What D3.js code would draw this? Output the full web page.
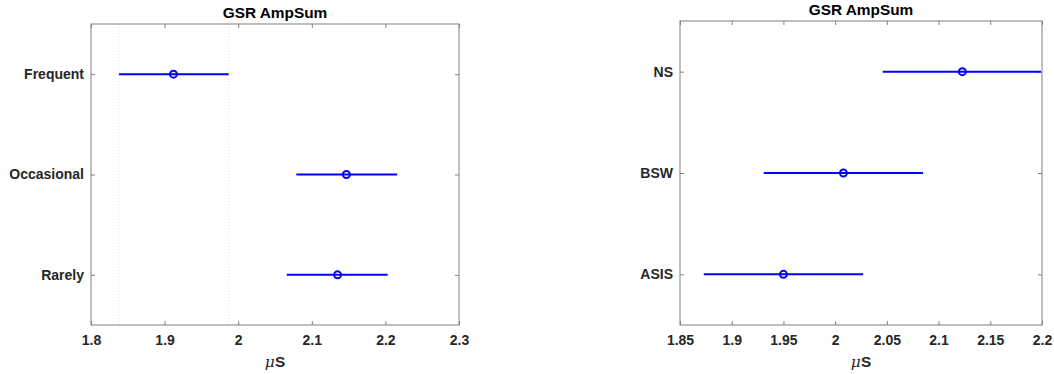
<!DOCTYPE html>
<meta charset="utf-8">
<style>
  body { margin: 0; background: #fff; }
  svg { font-family: "Liberation Sans", Arial, sans-serif; font-weight: bold; }
  .axis text { fill: #262626; font-size: 14px; }
  .axis .tick line { stroke: #808080; }
  .frame { fill: none; stroke: #808080; stroke-width: 1; }
  .ci { stroke: #0000ff; stroke-width: 2; }
  .mean { fill: none; stroke: #0000ff; stroke-width: 2; }
  .ref { stroke: #d9d9d9; stroke-width: 0.8; stroke-dasharray: 1,2; }
  .title { fill: #000; font-size: 15.4px; }
  .xlabel { fill: #262626; font-size: 15.4px; }
</style>
<svg width="1054" height="374"></svg>
<script src="https://cdn.jsdelivr.net/npm/d3@7"></script>
<script>
  // left panel: frequency groups
  var leftGroups = ["Frequent", "Occasional", "Rarely"];
  var leftMean = [1.912, 2.147, 2.135];
  var leftLow = [1.838, 2.079, 2.066];
  var leftHigh = [1.987, 2.216, 2.203];
  var leftTicks = [1.8, 1.9, 2, 2.1, 2.2, 2.3];

  // right panel: conditions
  var rightGroups = ["NS", "BSW", "ASIS"];
  var rightMean = [2.123, 2.008, 1.950];
  var rightLow = [2.046, 1.931, 1.873];
  var rightHigh = [2.199, 2.085, 2.027];
  var rightTicks = [1.85, 1.9, 1.95, 2, 2.05, 2.1, 2.15, 2.2];

  var svg = d3.select("svg");

  function panel(opt) {
    var g = svg.append("g");
    var n = opt.groups.length;
    var x = d3.scaleLinear().domain(d3.extent(opt.ticks)).range([opt.left, opt.right]);
    var y = d3.scaleLinear().domain([0.5, n + 0.5]).range([opt.bottom, opt.top]);
    var w = opt.right - opt.left, h = opt.bottom - opt.top;
    var fmt = function(d) { return d3.format("")(+d.toFixed(2)); };

    var clipId = "clip" + opt.id;
    svg.append("clipPath").attr("id", clipId)
      .append("rect").attr("x", opt.left).attr("y", opt.top).attr("width", w).attr("height", h);

    // reference lines at the interval of the highlighted group
    if (opt.refIndex != null) {
      g.selectAll(".ref").data([opt.low[opt.refIndex], opt.high[opt.refIndex]]).enter()
        .append("line").attr("class", "ref")
        .attr("x1", function(d) { return x(d); }).attr("x2", function(d) { return x(d); })
        .attr("y1", opt.top).attr("y2", opt.bottom);
    }

    // axes (ticks inward, MATLAB style)
    var ypos = opt.groups.map(function(d, i) { return n - i; });
    g.append("g").attr("class", "axis")
      .attr("transform", "translate(0," + opt.bottom + ")")
      .call(d3.axisBottom(x).tickValues(opt.ticks).tickFormat(fmt).tickSizeInner(-4).tickSizeOuter(0).tickPadding(10))
      .call(function(s) { s.select(".domain").remove(); });
    g.append("g").attr("class", "axis")
      .attr("transform", "translate(0," + opt.top + ")")
      .call(d3.axisTop(x).tickValues(opt.ticks).tickFormat("").tickSizeInner(-4).tickSizeOuter(0))
      .call(function(s) { s.select(".domain").remove(); });
    g.append("g").attr("class", "axis")
      .attr("transform", "translate(" + opt.left + ",0)")
      .call(d3.axisLeft(y).tickValues(ypos).tickFormat(function(d) { return opt.groups[n - d]; })
        .tickSizeInner(-4).tickSizeOuter(0).tickPadding(7))
      .call(function(s) { s.select(".domain").remove(); });
    g.append("g").attr("class", "axis")
      .attr("transform", "translate(" + opt.right + ",0)")
      .call(d3.axisRight(y).tickValues(ypos).tickFormat("").tickSizeInner(-4).tickSizeOuter(0))
      .call(function(s) { s.select(".domain").remove(); });

    g.append("rect").attr("class", "frame")
      .attr("x", opt.left).attr("y", opt.top).attr("width", w).attr("height", h);

    // intervals and means
    var marks = g.append("g").attr("clip-path", "url(#" + clipId + ")");
    marks.selectAll(".ci").data(opt.groups).enter().append("line").attr("class", "ci")
      .attr("x1", function(d, i) { return x(opt.low[i]); })
      .attr("x2", function(d, i) { return x(opt.high[i]); })
      .attr("y1", function(d, i) { return y(ypos[i]); })
      .attr("y2", function(d, i) { return y(ypos[i]); });
    marks.selectAll(".mean").data(opt.groups).enter().append("circle").attr("class", "mean")
      .attr("cx", function(d, i) { return x(opt.mean[i]); })
      .attr("cy", function(d, i) { return y(ypos[i]); })
      .attr("r", 3.5);

    var cx = (opt.left + opt.right) / 2;
    g.append("text").attr("class", "title").attr("x", cx).attr("y", opt.top - 6)
      .attr("text-anchor", "middle").text("GSR AmpSum");
    var xl = g.append("text").attr("class", "xlabel").attr("x", cx).attr("y", 367)
      .attr("text-anchor", "middle");
    xl.append("tspan").attr("font-style", "italic").attr("font-weight", "normal")
      .attr("font-family", "'DejaVu Serif', 'Liberation Serif', serif").text("\u03bc");
    xl.append("tspan").text("S");
  }

  panel({ id: "L", groups: leftGroups, mean: leftMean, low: leftLow, high: leftHigh,
    ticks: leftTicks, left: 91, right: 459, top: 24, bottom: 325, refIndex: 0 });
  panel({ id: "R", groups: rightGroups, mean: rightMean, low: rightLow, high: rightHigh,
    ticks: rightTicks, left: 680, right: 1042, top: 21, bottom: 325, refIndex: null });
</script>
